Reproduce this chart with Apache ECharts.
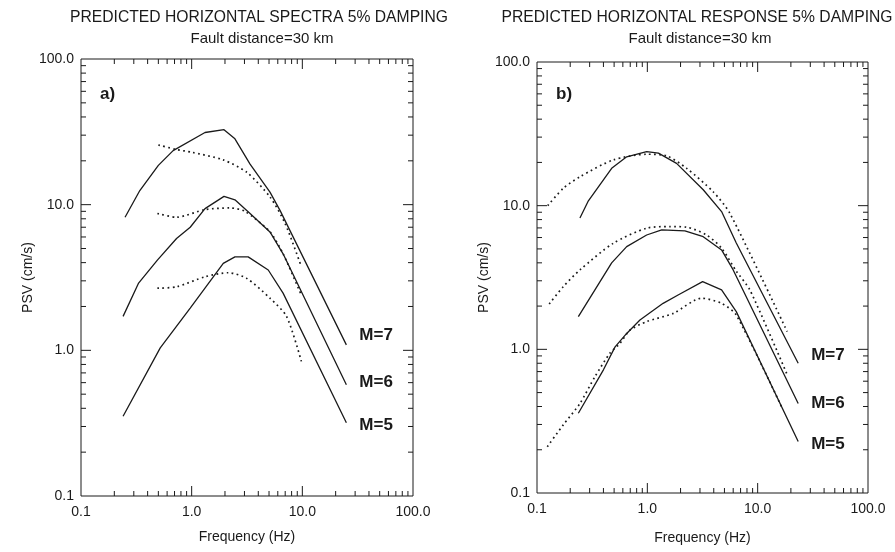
<!DOCTYPE html>
<html><head><meta charset="utf-8">
<script src="https://cdn.jsdelivr.net/npm/echarts@6/dist/echarts.min.js"></script>
<style>html,body{margin:0;padding:0;background:#fff}#c{width:895px;height:552px}</style>
</head><body><div id="c"></div>
<script>
// ---- Panel a) : predicted horizontal spectra ----
const aM7SolidF = [0.25, 0.34, 0.5, 0.68, 1.32, 1.96, 2.46, 3.37, 5.1, 6.3, 25];
const aM7SolidV = [8.2, 12.5, 18.6, 23.5, 31.3, 32.7, 28.3, 19, 12.2, 9.1, 1.09];
const aM7DotF = [0.5, 0.73, 1.0, 1.93, 3.14, 5.1, 7.0, 9.8];
const aM7DotV = [25.7, 23.9, 22.9, 20.3, 16.7, 11.3, 7.4, 3.75];
const aM6SolidF = [0.24, 0.33, 0.49, 0.73, 0.97, 1.32, 1.96, 2.46, 3.37, 5.1, 6.7, 25];
const aM6SolidV = [1.71, 2.88, 4.16, 5.86, 7.0, 9.4, 11.4, 10.8, 8.7, 6.5, 4.6, 0.58];
const aM6DotF = [0.49, 0.73, 1.32, 2.22, 3.03, 5.1, 6.7, 9.9];
const aM6DotV = [8.7, 8.2, 9.25, 9.5, 9.0, 6.5, 4.6, 2.35];
const aM5SolidF = [0.24, 0.52, 0.97, 1.93, 2.46, 3.24, 4.92, 6.7, 25];
const aM5SolidV = [0.353, 1.04, 1.95, 3.95, 4.38, 4.38, 3.56, 2.47, 0.318];
const aM5DotF = [0.49, 0.73, 1.32, 2.14, 3.14, 5.1, 7.2, 9.8];
const aM5DotV = [2.67, 2.73, 3.2, 3.41, 3.12, 2.28, 1.71, 0.84];

// ---- Panel b) : predicted horizontal response ----
const bM7SolidF = [0.245, 0.29, 0.475, 0.65, 0.986, 1.26, 1.84, 3.21, 4.71, 6.4, 23.3];
const bM7SolidV = [8.2, 10.7, 18.2, 21.9, 23.8, 23.2, 19.7, 12.9, 9.1, 5.5, 0.8];
const bM7DotF = [0.125, 0.173, 0.245, 0.49, 0.986, 1.5, 2.27, 3.95, 5.6, 18.5];
const bM7DotV = [10.0, 13.2, 15.9, 20.8, 22.8, 22.2, 18.2, 12.5, 8.85, 1.33];
const bM6SolidF = [0.237, 0.475, 0.65, 0.986, 1.35, 2.19, 3.21, 4.71, 6.0, 23.3];
const bM6SolidV = [1.69, 4.0, 5.19, 6.25, 6.78, 6.67, 6.08, 4.92, 3.57, 0.42];
const bM6DotF = [0.129, 0.173, 0.245, 0.49, 0.986, 1.6, 2.27, 3.44, 4.71, 6.4, 8.5, 18.3];
const bM6DotV = [2.07, 2.73, 3.57, 5.47, 6.97, 7.15, 7.08, 6.25, 5.06, 3.5, 2.59, 0.68];
const bM5SolidF = [0.237, 0.4, 0.51, 0.65, 0.857, 1.39, 1.9, 3.17, 4.71, 6.4, 23.3];
const bM5SolidV = [0.359, 0.72, 1.04, 1.29, 1.6, 2.09, 2.39, 2.96, 2.59, 1.83, 0.228];
const bM5DotF = [0.124, 0.173, 0.245, 0.335, 0.458, 0.565, 0.695, 0.986, 1.72, 3.1, 4.71, 6.4, 16.4];
const bM5DotV = [0.21, 0.298, 0.42, 0.645, 0.94, 1.1, 1.36, 1.56, 1.78, 2.27, 2.09, 1.73, 0.4];

// ---- axes ----
const axisMin = 0.1, axisMax = 100;
const majorTicks = [1, 10];
const minorTicks = [0.2,0.3,0.4,0.5,0.6,0.7,0.8,0.9, 2,3,4,5,6,7,8,9, 20,30,40,50,60,70,80,90];
const magLabels = ['M=7', 'M=6', 'M=5'];
const panelTitles = ['PREDICTED HORIZONTAL SPECTRA 5% DAMPING', 'PREDICTED HORIZONTAL RESPONSE 5% DAMPING'];
const panelSubtitle = 'Fault distance=30 km';
const panelTags = ['a)', 'b)'];

const FONT = '"Liberation Sans", Arial, Helvetica, sans-serif';
const INK = '#1a1a1a';
const pair = (f, v) => f.map((x, i) => [x, v[i]]);

const grids = [
  {left: 81, top: 59, width: 332, height: 437},
  {left: 537, top: 62, width: 331, height: 431}
];
const xNameGap = [34, 38];

function makeX(i) {
  return {
    type: 'log', logBase: 10, min: axisMin, max: axisMax, gridIndex: i,
    name: 'Frequency (Hz)', nameLocation: 'middle', nameGap: xNameGap[i],
    nameTextStyle: {fontFamily: FONT, fontSize: 14, color: INK},
    axisLine: {show: false}, axisTick: {show: false}, splitLine: {show: false},
    axisLabel: {fontFamily: FONT, fontSize: 14, color: INK, margin: 9,
      formatter: v => (+v).toFixed(1)}
  };
}
function makeY(i) {
  return {
    type: 'log', logBase: 10, min: axisMin, max: axisMax, gridIndex: i,
    name: 'PSV (cm/s)', nameLocation: 'middle', nameGap: 43,
    nameTextStyle: {fontFamily: FONT, fontSize: 14, color: INK},
    axisLine: {show: false}, axisTick: {show: false}, splitLine: {show: false},
    axisLabel: {fontFamily: FONT, fontSize: 14, color: INK, margin: 7,
      formatter: v => (+v).toFixed(1)}
  };
}

const tickData = majorTicks.map(v => [v, v, 1]).concat(minorTicks.map(v => [v, v, 0]));
function tickRender(params, api) {
  const v = api.value(0);
  const L = api.value(2) === 1 ? 10 : 5;
  const bl = api.coord([axisMin, axisMin]);
  const tr = api.coord([axisMax, axisMax]);
  const p = api.coord([v, v]);
  const st = {stroke: INK, lineWidth: 1};
  return {type: 'group', children: [
    {type: 'line', shape: {x1: p[0], y1: bl[1], x2: p[0], y2: bl[1] - L}, style: st},
    {type: 'line', shape: {x1: p[0], y1: tr[1], x2: p[0], y2: tr[1] + L}, style: st},
    {type: 'line', shape: {x1: bl[0], y1: p[1], x2: bl[0] + L, y2: p[1]}, style: st},
    {type: 'line', shape: {x1: tr[0], y1: p[1], x2: tr[0] - L, y2: p[1]}, style: st}
  ]};
}

function solid(i, data, label, offY) {
  return {
    type: 'line', xAxisIndex: i, yAxisIndex: i, data: data, symbol: 'none', silent: true,
    lineStyle: {color: INK, width: 1.3},
    endLabel: {show: true, formatter: label, offset: [5, offY], fontFamily: FONT,
      fontWeight: 'bold', fontSize: 17, color: INK}
  };
}
function dotted(i, data) {
  return {
    type: 'line', xAxisIndex: i, yAxisIndex: i, data: data, symbol: 'none', silent: true,
    smooth: 0.25,
    lineStyle: {color: INK, width: 1.7, type: [1.7, 3.4]}
  };
}

const series = [
  solid(0, pair(aM7SolidF, aM7SolidV), magLabels[0], -10),
  dotted(0, pair(aM7DotF, aM7DotV)),
  solid(0, pair(aM6SolidF, aM6SolidV), magLabels[1], -2),
  dotted(0, pair(aM6DotF, aM6DotV)),
  solid(0, pair(aM5SolidF, aM5SolidV), magLabels[2], 2),
  dotted(0, pair(aM5DotF, aM5DotV)),
  solid(1, pair(bM7SolidF, bM7SolidV), magLabels[0], -8),
  dotted(1, pair(bM7DotF, bM7DotV)),
  solid(1, pair(bM6SolidF, bM6SolidV), magLabels[1], 0),
  dotted(1, pair(bM6DotF, bM6DotV)),
  solid(1, pair(bM5SolidF, bM5SolidV), magLabels[2], 3),
  dotted(1, pair(bM5DotF, bM5DotV)),
  {type: 'custom', xAxisIndex: 0, yAxisIndex: 0, data: tickData, renderItem: tickRender, silent: true, clip: false},
  {type: 'custom', xAxisIndex: 1, yAxisIndex: 1, data: tickData, renderItem: tickRender, silent: true, clip: false}
];

const centers = [259, 697];
const graphic = [];
[0, 1].forEach(i => {
  graphic.push({type: 'text', x: centers[i], y: 10, style: {text: panelTitles[i], align: 'center',
    font: '15.7px ' + FONT, fill: INK}});
  graphic.push({type: 'text', x: centers[i] + 3, y: 31, style: {text: panelSubtitle, align: 'center',
    font: '15px ' + FONT, fill: INK}});
  graphic.push({type: 'text', x: grids[i].left + 19, y: 86, style: {text: panelTags[i],
    font: 'bold 17px ' + FONT, fill: INK}});
});

const chart = echarts.init(document.getElementById('c'), null, {renderer: 'canvas'});
chart.setOption({
  animation: false,
  backgroundColor: '#fff',
  grid: grids.map(g => Object.assign({show: true, borderColor: INK, borderWidth: 1, backgroundColor: 'transparent'}, g)),
  xAxis: [makeX(0), makeX(1)],
  yAxis: [makeY(0), makeY(1)],
  series: series,
  graphic: graphic
});
</script></body></html>
